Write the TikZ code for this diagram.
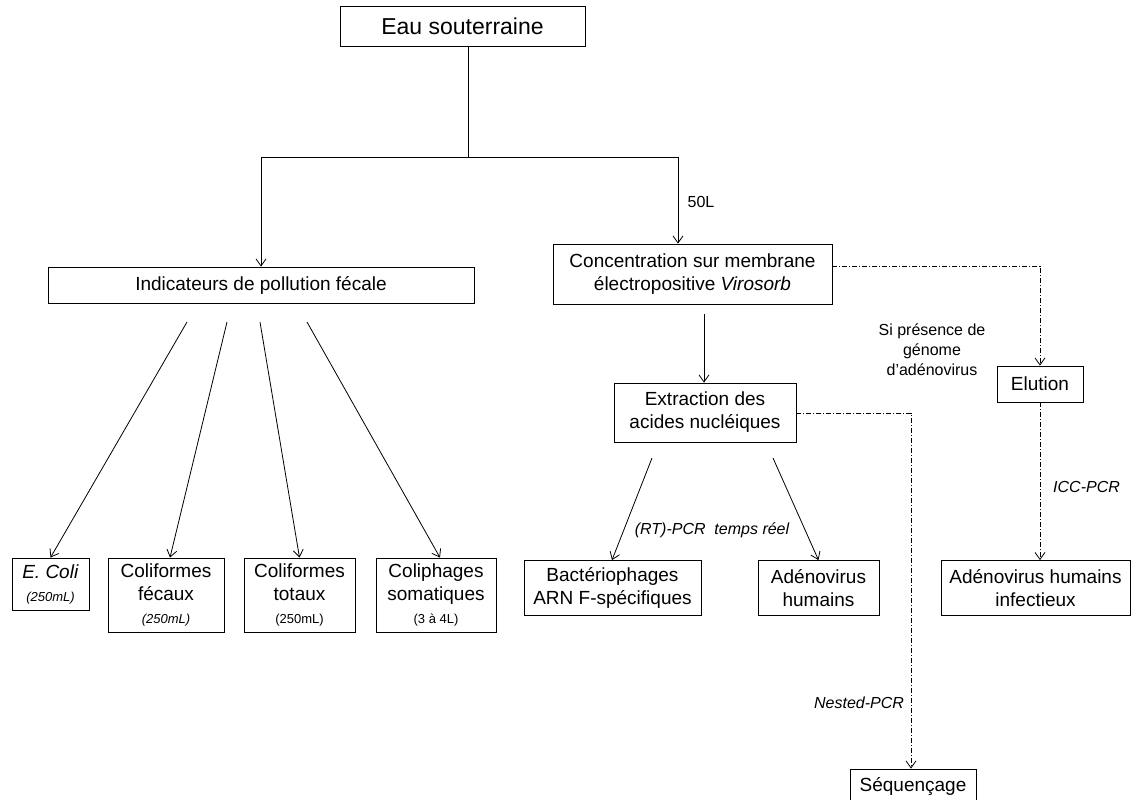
\documentclass[tikz,border=0pt]{standalone}
\usepackage{fontspec}
\setmainfont{Liberation Sans}
\usetikzlibrary{arrows.meta,calc}
\tikzset{
  box/.style={draw, line width=0.8pt, inner sep=0pt, align=center, font=\fontsize{19}{23}\selectfont},
  arr/.style={line width=0.8pt, -{Straight Barb[length=7pt,width=10pt]}},
  plain/.style={line width=0.8pt},
  dd/.style={line width=0.8pt, dash pattern=on 5pt off 2pt on 1pt off 2pt, -{Straight Barb[length=7pt,width=10pt]}},
  lbl/.style={font=\fontsize{16}{20}\selectfont, inner sep=0pt, align=center},
}
\newcommand\smallit[1]{{\fontsize{13}{18}\selectfont\itshape #1}}
\newcommand\smallrm[1]{{\fontsize{13}{18}\selectfont #1}}
\begin{document}
\begin{tikzpicture}[x=1pt,y=-1pt]
\useasboundingbox (0,0) rectangle (1133,800);
% boxes
\node[box, minimum width=245pt, minimum height=40pt, font=\fontsize{23}{26}\selectfont] (eau) at (462.5,26) {Eau souterraine};
\node[box, minimum width=426pt, minimum height=36pt] (ind) at (261,285) {Indicateurs de pollution fécale};
\node[box, minimum width=279pt, minimum height=60pt] (conc) at (692.5,274) {Concentration sur membrane\\électropositive \textit{Virosorb}};
\node[box, minimum width=182pt, minimum height=59pt] (extr) at (705,412.5) {Extraction des\\acides nucléiques};
\node[box, minimum width=86pt, minimum height=36pt] (elut) at (1040,384) {Elution};
\node[box, minimum width=77pt, minimum height=52pt] (ecoli) at (50.5,584) {\textit{E. Coli}\\\smallit{(250mL)}};
\node[box, minimum width=116pt, minimum height=74pt] (colf) at (166,595) {Coliformes\\fécaux\\\smallit{(250mL)}};
\node[box, minimum width=111pt, minimum height=74pt] (colt) at (299.5,595) {Coliformes\\totaux\\\smallrm{(250mL)}};
\node[box, minimum width=120pt, minimum height=74pt] (colp) at (436,595) {Coliphages\\somatiques\\\smallrm{(3 à 4L)}};
\node[box, minimum width=177pt, minimum height=55pt] (bact) at (612.5,588) {Bactériophages\\ARN F-spécifiques};
\node[box, minimum width=121pt, minimum height=55pt] (adeno) at (818.5,588) {Adénovirus\\humains};
\node[box, minimum width=189pt, minimum height=55pt] (adinf) at (1035.5,588) {Adénovirus humains\\infectieux};
\node[box, minimum width=126pt, minimum height=36pt] (seq) at (913,787) {Séquençage};
% junctions
\coordinate (j1) at (468,157);
\coordinate (jl) at (261,157);
\coordinate (jr) at (678,157);
\draw[plain] (eau.south -| j1) -- (j1);
\draw[arr] (j1) -- (jl) -- (ind.north -| jl);
\draw[arr] (j1) -- (jr) -- (conc.north -| jr);
\node[lbl] (l50) at (701,202) {50L};
% fan from indicateurs
\coordinate (f1) at (187,322);
\coordinate (f2) at (227,322);
\coordinate (f3) at (260,322);
\coordinate (f4) at (307,322);
\draw[arr] (f1) -- (ecoli.north);
\draw[arr] (f2) -- ([xshift=4pt]colf.north);
\draw[arr] (f3) -- (colt.north);
\draw[arr] (f4) -- ([xshift=4pt]colp.north);
% concentration -> extraction
\coordinate (c1) at (704,314);
\draw[arr] (c1) -- (extr.north -| c1);
% concentration -> elution
\coordinate (d1) at (1040,266);
\draw[dd] (conc.east |- d1) -- (d1) -- (elut.north);
\node[lbl] (si) at (932,350) {Si présence de\\génome\\d’adénovirus};
% extraction fans
\coordinate (e1) at (652,458);
\coordinate (e2) at (773,458);
\draw[arr] (e1) -- (bact.north -| 612,0);
\draw[arr] (e2) -- (adeno.north);
\node[lbl, font=\fontsize{16}{20}\selectfont\itshape] (rt) at (712,530) {(RT)-PCR\ \ temps réel};
% extraction -> sequencage
\coordinate (s1) at (911,413);
\draw[dd] (extr.east |- s1) -- (s1) -- (seq.north -| s1);
\node[lbl, font=\fontsize{16}{20}\selectfont\itshape] (np) at (859,703) {Nested-PCR};
% elution -> adinf
\draw[dd] (elut.south) -- (elut.south |- adinf.north);
\node[lbl, font=\fontsize{16}{20}\selectfont\itshape, anchor=west] (icc) at (1053,487) {ICC-PCR};
\end{tikzpicture}
\end{document}
